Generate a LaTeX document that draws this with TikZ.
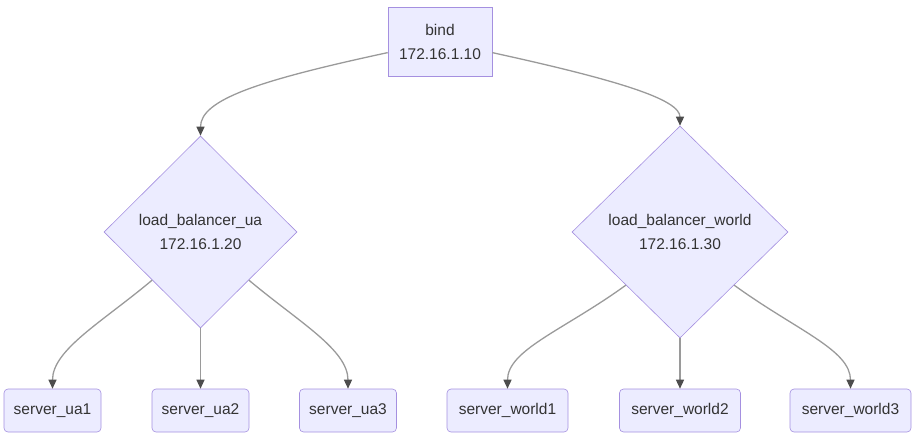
\documentclass[tikz,border=0pt]{standalone}
\usepackage{fontspec}
\setmainfont{Liberation Sans}
\usepackage{tikz}
\usetikzlibrary{arrows.meta,positioning,shapes.geometric}
\definecolor{nodefill}{HTML}{ECECFF}
\definecolor{nodeline}{HTML}{A590E0}
\definecolor{edgeline}{HTML}{9A9A9A}
\definecolor{tipcol}{HTML}{4D4D4D}
\definecolor{txt}{HTML}{333333}

\begin{document}
\begin{tikzpicture}[
x=1pt, y=-1pt,
every node/.style={font=\fontsize{15.5}{24}\selectfont, text=txt},
box/.style={draw=nodeline, fill=nodefill, line width=0.6pt, align=center, inner sep=0pt},
server/.style={box, rounded corners=4pt, minimum height=43pt},
decision/.style={diamond, draw=nodeline, fill=nodefill, line width=0.6pt, align=center, inner sep=0pt, aspect=1},
arrow/.style={-{Triangle[length=9pt,width=8pt,color=tipcol]}, edgeline, line width=1.3pt}
]
\useasboundingbox (0,0) rectangle (918,440);
\node[box, minimum width=104pt, minimum height=69pt] (bind) at (440,41.5) {bind\\172.16.1.10};
\node[decision, minimum width=193pt, minimum height=192pt] (lbua) at (200.5,232) {load\_balancer\_ua\\172.16.1.20};
\node[decision, minimum width=216pt, minimum height=212pt] (lbworld) at (680,232) {load\_balancer\_world\\172.16.1.30};
\node[server, minimum width=97pt] (ua1) at (52.5,410.5) {server\_ua1};
\node[server, minimum width=97pt] (ua2) at (200.5,410.5) {server\_ua2};
\node[server, minimum width=97pt] (ua3) at (348,410.5) {server\_ua3};
\node[server, minimum width=121pt] (world1) at (507.5,410.5) {server\_world1};
\node[server, minimum width=121pt] (world2) at (680,410.5) {server\_world2};
\node[server, minimum width=121pt] (world3) at (850.5,410.5) {server\_world3};
\draw[arrow] (bind.192) .. controls +(-130,28) and +(0,-36) .. (lbua.north);
\draw[arrow] (bind.-12) .. controls +(128,28) and +(0,-26) .. (lbworld.north);
\draw[arrow] (lbua.south west) .. controls +(-50,42) and +(0,-39) .. (ua1.north);
\draw[arrow] (lbua.south) -- (ua2.north);
\draw[arrow] (lbua.south east) .. controls +(50,42) and +(0,-39) .. (ua3.north);
\draw[arrow] (lbworld.south west) .. controls +(-62,45) and +(0,-39) .. (world1.north);
\draw[arrow] (lbworld.south) -- (world2.north);
\draw[arrow] (lbworld.south east) .. controls +(62,45) and +(0,-39) .. (world3.north);
\end{tikzpicture}
\end{document}
